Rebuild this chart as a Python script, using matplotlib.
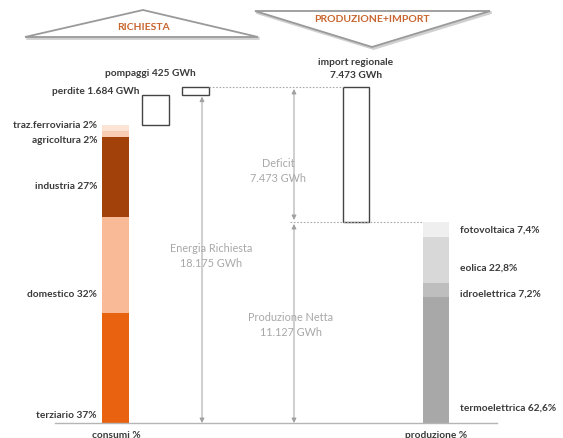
import matplotlib
matplotlib.use("Agg")
import matplotlib.pyplot as plt
from matplotlib.patches import Polygon
import numpy as np

# energy balance, GWh
richiesta = 18175
perdite = 1684
pompaggi = 425
import_reg = 7473
produzione = 11127
consumi_tot = richiesta - perdite
totale = produzione + import_reg  # = richiesta + pompaggi

# consumption shares (bottom to top)
consumi_labels = ["terziario 37%", "domestico 32%", "industria 27%",
                  "agricoltura 2%", "traz.ferroviaria 2%"]
consumi_pct = [37, 32, 27, 2, 2]
consumi_colors = ["#E8620F", "#F9BA97", "#A3410A", "#F8CDB3", "#FCE3D4"]

# production shares (bottom to top)
prod_labels = ["termoelettrica 62,6%", "idroelettrica 7,2%",
               "eolica 22,8%", "fotovoltaica 7,4%"]
prod_pct = [62.6, 7.2, 22.8, 7.4]
prod_colors = ["#A8A8A8", "#BEBEBE", "#D8D8D8", "#EFEFEF"]

plt.rcParams["font.family"] = ["Lato", "DejaVu Sans"]

W, H = 563, 439
fig = plt.figure(figsize=(W / 100, H / 100), dpi=100)

# data axes: x in pixels, y in GWh (baseline at pixel 424, top at pixel 88)
scale = (424 - 88) / totale
ax = fig.add_axes([0, 0, 1, 1])
ax.set_xlim(0, W)
ax.set_ylim(-(H - 424) / scale, 424 / scale)
ax.axis("off")

# overlay axes in pixel coords for decorations
deco = fig.add_axes([0, 0, 1, 1], zorder=3)
deco.set_xlim(0, W)
deco.set_ylim(H, 0)
deco.axis("off")
deco.patch.set_alpha(0)

lab_font = dict(fontsize=7.3, fontweight="bold", color="#3a3a3a")
grey_font = dict(fontsize=7.8, color="#a8a8a8", ha="center")

# consumption bar
vals = np.array(consumi_pct) / 100 * consumi_tot
bottom = 0
for v, c in zip(vals, consumi_colors):
    ax.bar(115.5, v, width=27, bottom=bottom, color=c, linewidth=0)
    bottom += v

# losses and pumping boxes
ax.bar(155.5, perdite, width=27, bottom=consumi_tot, facecolor="white",
       edgecolor="#444444", linewidth=1.0)
ax.bar(195.5, pompaggi, width=27, bottom=richiesta,
       facecolor="white", edgecolor="#444444", linewidth=1.0)

# import box
ax.bar(356, import_reg, width=26, bottom=produzione, facecolor="white",
       edgecolor="#444444", linewidth=1.0)

# production bar
vals = np.array(prod_pct) / 100 * produzione
bottom = 0
for v, c in zip(vals, prod_colors):
    ax.bar(436, v, width=26, bottom=bottom, color=c, linewidth=0)
    bottom += v

# baseline and dotted guides
ax.plot([55, 497], [0, 0], color="#b5b5b5", lw=1.0)
ax.plot([209, 343], [totale, totale], color="#aaaaaa", lw=0.8, ls=(0, (1.5, 1.5)))
ax.plot([290, 423], [produzione, produzione], color="#aaaaaa", lw=0.8, ls=(0, (1.5, 1.5)))

# double arrows
arr = dict(arrowstyle="<|-|>", color="#a0a0a0", lw=0.7, mutation_scale=7,
           shrinkA=0, shrinkB=0)
gap = 2 / scale
ax.annotate("", xy=(202, 0), xytext=(202, richiesta - gap), arrowprops=arr)
ax.annotate("", xy=(294, produzione + gap), xytext=(294, totale - gap), arrowprops=arr)
ax.annotate("", xy=(294, 0), xytext=(294, produzione - gap), arrowprops=arr)

# header triangles
tri_l = [(25, 38), (143, 11), (258, 38)]
tri_r = [(255, 12), (490, 12), (372, 48)]
for pts in (tri_l, tri_r):
    shadow = [(x + 1.5, y + 1.5) for x, y in pts]
    deco.add_patch(Polygon(shadow, closed=True, facecolor="none",
                           edgecolor="#d0d0d0", lw=2.0))
    deco.add_patch(Polygon(pts, closed=True, facecolor="white",
                           edgecolor="#9a9a9a", lw=1.3))
deco.text(143, 28, "RICHIESTA", ha="center", va="center", fontsize=7.5,
          fontweight="bold", color="#C8652E")
deco.text(372, 19, "PRODUZIONE+IMPORT", ha="center", va="center", fontsize=7.5,
          fontweight="bold", color="#C8652E")

# consumption labels
cons_y = [416, 295, 187, 141, 126]
for lab, y in zip(consumi_labels, cons_y):
    deco.text(97, y, lab, ha="right", va="center", **lab_font)
deco.text(116, 436, "consumi %", ha="center", va="center", **lab_font)

deco.text(140, 92, "perdite 1.684 GWh", ha="right", va="center", **lab_font)
deco.text(150, 73, "pompaggi 425 GWh", ha="center", va="center", **lab_font)
deco.text(356, 69, "import regionale\n7.473 GWh", ha="center", va="center",
          linespacing=1.6, **lab_font)

deco.text(278, 171, "Deficit\n7.473 GWh", va="center", linespacing=1.5, **grey_font)
deco.text(211, 256, "Energia Richiesta\n18.175 GWh", va="center", linespacing=1.5,
          **grey_font)
deco.text(291, 325, "Produzione Netta\n11.127 GWh", va="center", linespacing=1.5,
          **grey_font)

# production labels
prod_y = [408, 294, 268, 230]
for lab, y in zip(prod_labels, prod_y):
    deco.text(460, y, lab, ha="left", va="center", **lab_font)
deco.text(436, 436, "produzione %", ha="center", va="center", **lab_font)

fig.savefig("out.png", dpi=100)
